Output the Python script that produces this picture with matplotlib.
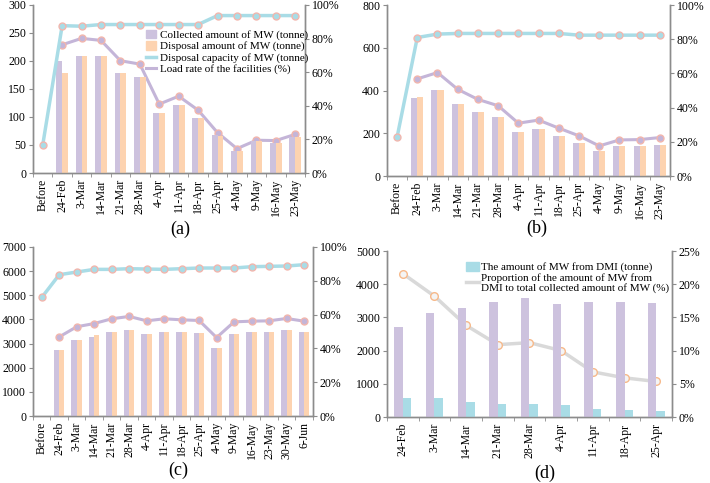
import matplotlib.pyplot as plt
import numpy as np
from matplotlib.lines import Line2D
from matplotlib.patches import Patch

plt.rcParams['font.family'] = ['Liberation Serif', 'DejaVu Serif']
plt.rcParams['font.size'] = 8.5

purple = '#cdc2de'
orange = '#fdd3b0'
blue = '#a9dce6'
lpurple = '#c4b5d8'
mk_edge = '#f2b6ad'

# (a)
dates_a = ['Before', '24-Feb', '3-Mar', '14-Mar', '21-Mar', '28-Mar', '4-Apr', '11-Apr',
           '18-Apr', '25-Apr', '4-May', '9-May', '16-May', '23-May']
coll_a = [np.nan, 200, 209, 209, 178, 172, 108, 121, 98, 67, 40, 57, 53, 65]
disp_a = [np.nan, 179, 209, 209, 178, 172, 108, 121, 98, 66, 40, 58, 53, 65]
cap_a = [50, 263, 262, 265, 265, 265, 265, 265, 265, 281, 281, 281, 281, 281]
load_a = [np.nan, 76.3, 80.1, 78.9, 66.8, 64.8, 41.0, 45.7, 37.4, 24.0, 14.5, 19.5, 19.3, 23.0]

# (b)
dates_b = dates_a
coll_b = [np.nan, 366, 404, 338, 299, 274, 207, 218, 186, 155, 116, 139, 141, 146]
disp_b = [np.nan, 369, 404, 338, 299, 274, 207, 218, 186, 155, 116, 139, 141, 146]
cap_b = [181, 648, 664, 667, 667, 667, 667, 667, 667, 659, 659, 659, 659, 659]
load_b = [np.nan, 56.8, 60.5, 50.7, 44.8, 41.1, 30.9, 32.7, 28.0, 23.5, 17.6, 21.1, 21.3, 22.5]

# (c)
dates_c = ['Before', '24-Feb', '3-Mar', '14-Mar', '21-Mar', '28-Mar', '4-Apr', '11-Apr',
           '18-Apr', '25-Apr', '4-May', '9-May', '16-May', '23-May', '30-May', '6-Jun']
coll_c = [np.nan, 2725, 3153, 3292, 3472, 3582, 3402, 3485, 3472, 3444, 2835, 3402, 3472, 3472, 3555, 3485]
disp_c = [np.nan, 2725, 3153, 3375, 3472, 3582, 3402, 3485, 3472, 3444, 2835, 3402, 3472, 3472, 3555, 3485]
cap_c = [4910, 5851, 5962, 6072, 6072, 6100, 6086, 6072, 6100, 6128, 6128, 6128, 6183, 6197, 6211, 6266]
load_c = [np.nan, 46.8, 52.8, 54.7, 57.5, 58.9, 56.3, 57.5, 56.9, 56.5, 46.4, 55.7, 56.1, 56.3, 57.7, 56.1]

# (d)
dates_d = ['24-Feb', '3-Mar', '14-Mar', '21-Mar', '28-Mar', '4-Apr', '11-Apr', '18-Apr', '25-Apr']
coll_d = [2705, 3126, 3297, 3477, 3587, 3407, 3477, 3477, 3437]
dmi_d = [581, 561, 461, 381, 401, 351, 240, 200, 190]
prop_d = [21.6, 18.2, 13.8, 10.9, 11.2, 10.0, 6.8, 5.9, 5.35]


def style(ax, ax2, n, labels):
    for a in (ax, ax2):
        a.spines['top'].set_visible(False)
        for s in ('left', 'right', 'bottom'):
            a.spines[s].set_color('#8c8c8c')
            a.spines[s].set_linewidth(1.0)
        a.tick_params(axis='y', length=3, color='#8c8c8c', pad=2)
    ax.set_xlim(-0.5, n - 0.5)
    ax.set_xticks(np.arange(n))
    ax.set_xticklabels(labels, rotation=90)
    ax.set_xticks(np.arange(n + 1) - 0.5, minor=True)
    ax.tick_params(axis='x', which='major', length=0, pad=4)
    ax.tick_params(axis='x', which='minor', length=3, color='#8c8c8c')
    ax2.yaxis.set_major_formatter(plt.FuncFormatter(lambda v, p: '%d%%' % round(v)))
    ax.set_zorder(ax2.get_zorder() + 1)
    ax.patch.set_visible(False)


def panel(rect, dates, coll, disp, cap, load, ymax, ystep, tag, tagpos, legend=False):
    ax2 = fig.add_axes(rect)
    ax = fig.add_axes(rect)
    ax2.yaxis.tick_right()
    ax2.xaxis.set_visible(False)
    x = np.arange(len(dates))
    w = 0.3
    ax2.plot(x, load, color=lpurple, lw=2.2, marker='o', ms=5,
             mfc=lpurple, mec=mk_edge, mew=1.0, zorder=3)
    ax2.set_ylim(0, 100)
    ax2.set_yticks(np.arange(0, 101, 20))
    ax2.set_xlim(-0.5, len(dates) - 0.5)
    ax.bar(x - w / 2, coll, w, color=purple, zorder=1)
    ax.bar(x + w / 2, disp, w, color=orange, zorder=1)
    ax.plot(x, cap, color=blue, lw=2.5, marker='o', ms=5,
            mfc=blue, mec=mk_edge, mew=1.0, zorder=3)
    ax.set_ylim(0, ymax)
    ax.set_yticks(np.arange(0, ymax + 1, ystep))
    style(ax, ax2, len(dates), dates)
    fig.text(tagpos[0] / 710, 1 - tagpos[1] / 483, tag, fontsize=13, ha='center', va='center')
    if legend:
        h = [Patch(color=purple), Patch(color=orange),
             Line2D([], [], color=blue, lw=2.5), Line2D([], [], color=lpurple, lw=2.2)]
        lb = ['Collected amount of MW (tonne)', 'Disposal amount of MW (tonne)',
              'Disposal capacity of MW (tonne)', 'Load rate of the facilities (%)']
        ax.legend(h, lb, loc='upper left', bbox_to_anchor=(0.40, 0.88), frameon=False,
                  handlelength=0.9, handleheight=0.8, handletextpad=0.3, labelspacing=0.1,
                  borderaxespad=0, fontsize=8)


fig = plt.figure(figsize=(7.1, 4.83), dpi=100)

panel([0.0465, 0.6418, 0.383, 0.348], dates_a, coll_a, disp_a, cap_a, load_a, 300, 50,
      '(a)', (180, 229), legend=True)
panel([0.545, 0.6356, 0.3986, 0.354], dates_b, coll_b, disp_b, cap_b, load_b, 800, 200,
      '(b)', (537, 228))
panel([0.0465, 0.1387, 0.394, 0.350], dates_c, coll_c, disp_c, cap_c, load_c, 7000, 1000,
      '(c)', (178, 470))

# (d)
rect = [0.545, 0.1366, 0.4015, 0.3437]
ax2 = fig.add_axes(rect)
ax = fig.add_axes(rect)
ax2.yaxis.tick_right()
ax2.xaxis.set_visible(False)
x = np.arange(len(dates_d))
w = 0.27
ax.bar(x - w / 2, coll_d, w, color=purple, zorder=1)
ax.bar(x + w / 2, dmi_d, w, color=blue, zorder=1)
ax2.plot(x, prop_d, color='#d9d9d9', lw=2.5, marker='o', ms=5.5,
         mfc='#f4f4f4', mec='#f7b98a', mew=1.0, zorder=3)
ax2.set_ylim(0, 25)
ax2.set_yticks(np.arange(0, 26, 5))
ax2.set_xlim(-0.5, len(dates_d) - 0.5)
ax.set_ylim(0, 5000)
ax.set_yticks(np.arange(0, 5001, 1000))
style(ax, ax2, len(dates_d), dates_d)
h = [Patch(color=blue), Line2D([], [], color='#d9d9d9', lw=2.5)]
lb = ['The amount of MW from DMI (tonne)',
      'Proportion of the amount of MW from\nDMI to total collected amount of MW (%)']
leg = ax.legend(h, lb, loc='upper left', bbox_to_anchor=(0.26, 0.96), frameon=False,
                handlelength=1.2, handleheight=0.8, handletextpad=0.15, labelspacing=0.05,
                borderaxespad=0, fontsize=8)
for t in leg.get_texts():
    t.set_linespacing(1.0)
fig.text(545 / 710, 1 - 473 / 483, '(d)', fontsize=13, ha='center', va='center')

fig.savefig('out.png', dpi=100)
